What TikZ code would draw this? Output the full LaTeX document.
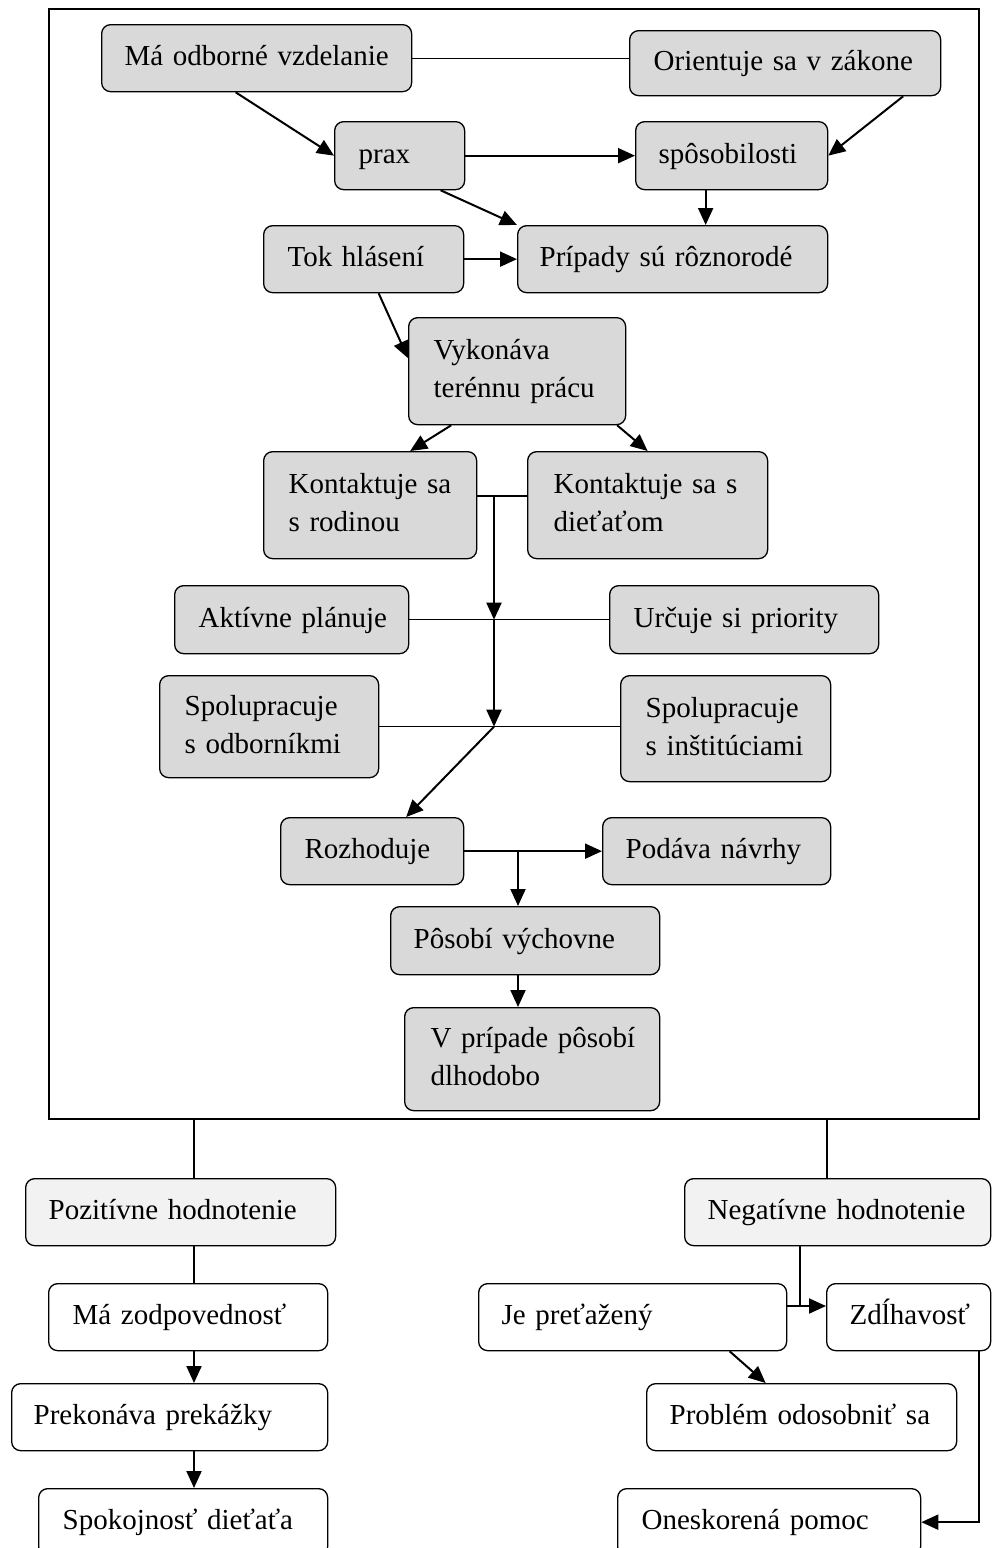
\documentclass[tikz,border=0pt]{standalone}
\usepackage{fontspec}
\setmainfont{Liberation Serif}
\usepackage{tikz}
\usetikzlibrary{%
  arrows.meta,%
  positioning,%
  calc%
}
\definecolor{boxgray}{RGB}{217,217,217}
\definecolor{evalgray}{RGB}{242,242,242}

\begin{document}
\begin{tikzpicture}[x=1pt, y=-1pt,
  box/.style = {draw, rounded corners=9pt, line width=1.3pt,
    fill=boxgray, anchor=north west, inner xsep=0pt, inner ysep=0pt,
    align=left, font=\fontsize{29}{38}\selectfont,
    execute at end node={\strut}},
  evalbox/.style = {box, fill=evalgray},
  plainbox/.style = {box, fill=white},
  lpad/.style = {execute at begin node={\leftskip=#1\relax\strut}},
  conn/.style = {line width=2pt, -{Triangle[length=17pt,width=15pt]}},
  link/.style = {line width=1.1pt}]
  \useasboundingbox (0,0) rectangle (992,1548);

  % outer frame
  \node[draw, line width=1.6pt, anchor=north west, inner sep=0pt,
    minimum width=930pt, minimum height=1110pt] (frame) at (48,8) {};

  % inside the frame
  \node[box, lpad=23pt, text width=310pt, minimum height=67pt] (odb) at (101,24) {Má odborné vzdelanie};
  \node[box, lpad=24pt, text width=311pt, minimum height=65pt] (ori) at (629,30) {Orientuje sa v zákone};
  \node[box, lpad=24pt, text width=130pt, minimum height=68pt] (prax) at (334,121) {prax};
  \node[box, lpad=23pt, text width=192pt, minimum height=68pt] (spos) at (635,121) {spôsobilosti};
  \node[box, lpad=24pt, text width=200pt, minimum height=67pt] (tok) at (263,225) {Tok hlásení};
  \node[box, lpad=22pt, text width=310pt, minimum height=67pt] (cases) at (517,225) {Prípady sú rôznorodé};
  \node[box, lpad=25pt, text width=217pt, minimum height=107pt] (vyk) at (408,317) {Vykonáva\\terénnu prácu};
  \node[box, lpad=25pt, text width=213pt, minimum height=107pt] (rod) at (263,451) {Kontaktuje sa\\s rodinou};
  \node[box, lpad=26pt, text width=240pt, minimum height=107pt] (die) at (527,451) {Kontaktuje sa s\\dieťaťom};
  \node[box, lpad=24pt, text width=234pt, minimum height=68pt] (plan) at (174,585) {Aktívne plánuje};
  \node[box, lpad=24pt, text width=269pt, minimum height=68pt] (prio) at (609,585) {Určuje si priority};
  \node[box, lpad=25pt, text width=219pt, minimum height=102pt] (sodb) at (159,675) {Spolupracuje\\s odborníkmi};
  \node[box, lpad=25pt, text width=210pt, minimum height=106pt] (sinst) at (620,675) {Spolupracuje\\s inštitúciami};
  \node[box, lpad=24pt, text width=183pt, minimum height=67pt] (rozh) at (280,817) {Rozhoduje};
  \node[box, lpad=23pt, text width=228pt, minimum height=67pt] (pod) at (602,817) {Podáva návrhy};
  \node[box, lpad=23pt, text width=269pt, minimum height=68pt] (vych) at (390,906) {Pôsobí výchovne};
  \node[box, lpad=26pt, text width=255pt, minimum height=103pt] (dlho) at (404,1007) {V prípade pôsobí\\dlhodobo};

  % below the frame
  \node[evalbox, lpad=23pt, text width=310pt, minimum height=67pt] (pos) at (25,1178) {Pozitívne hodnotenie};
  \node[evalbox, lpad=23pt, text width=306pt, minimum height=67pt] (neg) at (684,1178) {Negatívne hodnotenie};
  \node[plainbox, lpad=24pt, text width=279pt, minimum height=67pt] (zod) at (48,1283) {Má zodpovednosť};
  \node[plainbox, lpad=22pt, text width=316pt, minimum height=67pt] (prek) at (11,1383) {Prekonáva prekážky};
  \node[plainbox, lpad=24pt, text width=289pt, minimum height=67pt] (spok) at (38,1488) {Spokojnosť dieťaťa};
  \node[plainbox, lpad=23pt, text width=308pt, minimum height=67pt] (je) at (478,1283) {Je preťažený};
  \node[plainbox, lpad=23pt, text width=164pt, minimum height=67pt] (zdl) at (826,1283) {Zdĺhavosť};
  \node[plainbox, lpad=23pt, text width=310pt, minimum height=67pt] (prob) at (646,1383) {Problém odosobniť sa};
  \node[plainbox, lpad=24pt, text width=303pt, minimum height=67pt] (one) at (617,1488) {Oneskorená pomoc};

  % junctions
  \coordinate (j1) at (494,496);
  \coordinate (j4) at (518,850.5);
  \coordinate (lp) at (194,1118);
  \coordinate (ln) at (827,1118);
  \coordinate (j5) at (800,1306);

  % connectors inside
  \draw[link] (odb.east) -- (odb.east -| ori.west);
  \draw[conn] ([xshift=-21pt]odb.south) -- (prax.west);
  \draw[conn] ([xshift=118pt]ori.south) -- (spos.east);
  \draw[conn] (prax.east) -- (spos.west);
  \draw[conn] ([xshift=41pt]prax.south) -- (cases.north west);
  \draw[conn] ([xshift=-26pt]spos.south) -- ([xshift=-26pt]spos.south |- cases.north);
  \draw[conn] (tok.east) -- (cases.west);
  \draw[conn] ([xshift=15pt]tok.south) -- ([yshift=13pt]vyk.west);
  \draw[conn] ([xshift=-66pt]vyk.south) -- ([xshift=40pt]rod.north);
  \draw[conn] ([xshift=100pt]vyk.south) -- (die.north);
  \draw[link] (rod.east |- j1) -- (die.west |- j1);
  \draw[conn] (j1) -- (j1 |- plan.east);
  \draw[link] (plan.east) -- (prio.west);
  \draw[conn] (j1 |- plan.east) -- (j1 |- sodb.east);
  \draw[link] (sodb.east) -- (sodb.east -| sinst.west);
  \draw[conn] (j1 |- sodb.east) -- ([xshift=34pt]rozh.north);
  \draw[conn] (rozh.east) -- (pod.west);
  \draw[conn] (j4) -- (j4 |- vych.north);
  \draw[conn] (j4 |- vych.south) -- (j4 |- dlho.north);

  % evaluation
  \draw[link] (lp) -- (lp |- pos.north);
  \draw[link] (ln) -- (ln |- neg.north);
  \draw[link] (lp |- pos.south) -- (lp |- zod.north);
  \draw[conn] (lp |- zod.south) -- (lp |- prek.north);
  \draw[conn] (lp |- prek.south) -- (lp |- spok.north);
  \draw[link] (neg.south -| j5) -- (j5);
  \draw[conn] (je.east |- j5) -- (zdl.west |- j5);
  \draw[conn] ([xshift=97pt]je.south) -- ([xshift=-36pt]prob.north);
  \draw[conn] ([xshift=70pt]zdl.south) |- (one.east);
\end{tikzpicture}
\end{document}
